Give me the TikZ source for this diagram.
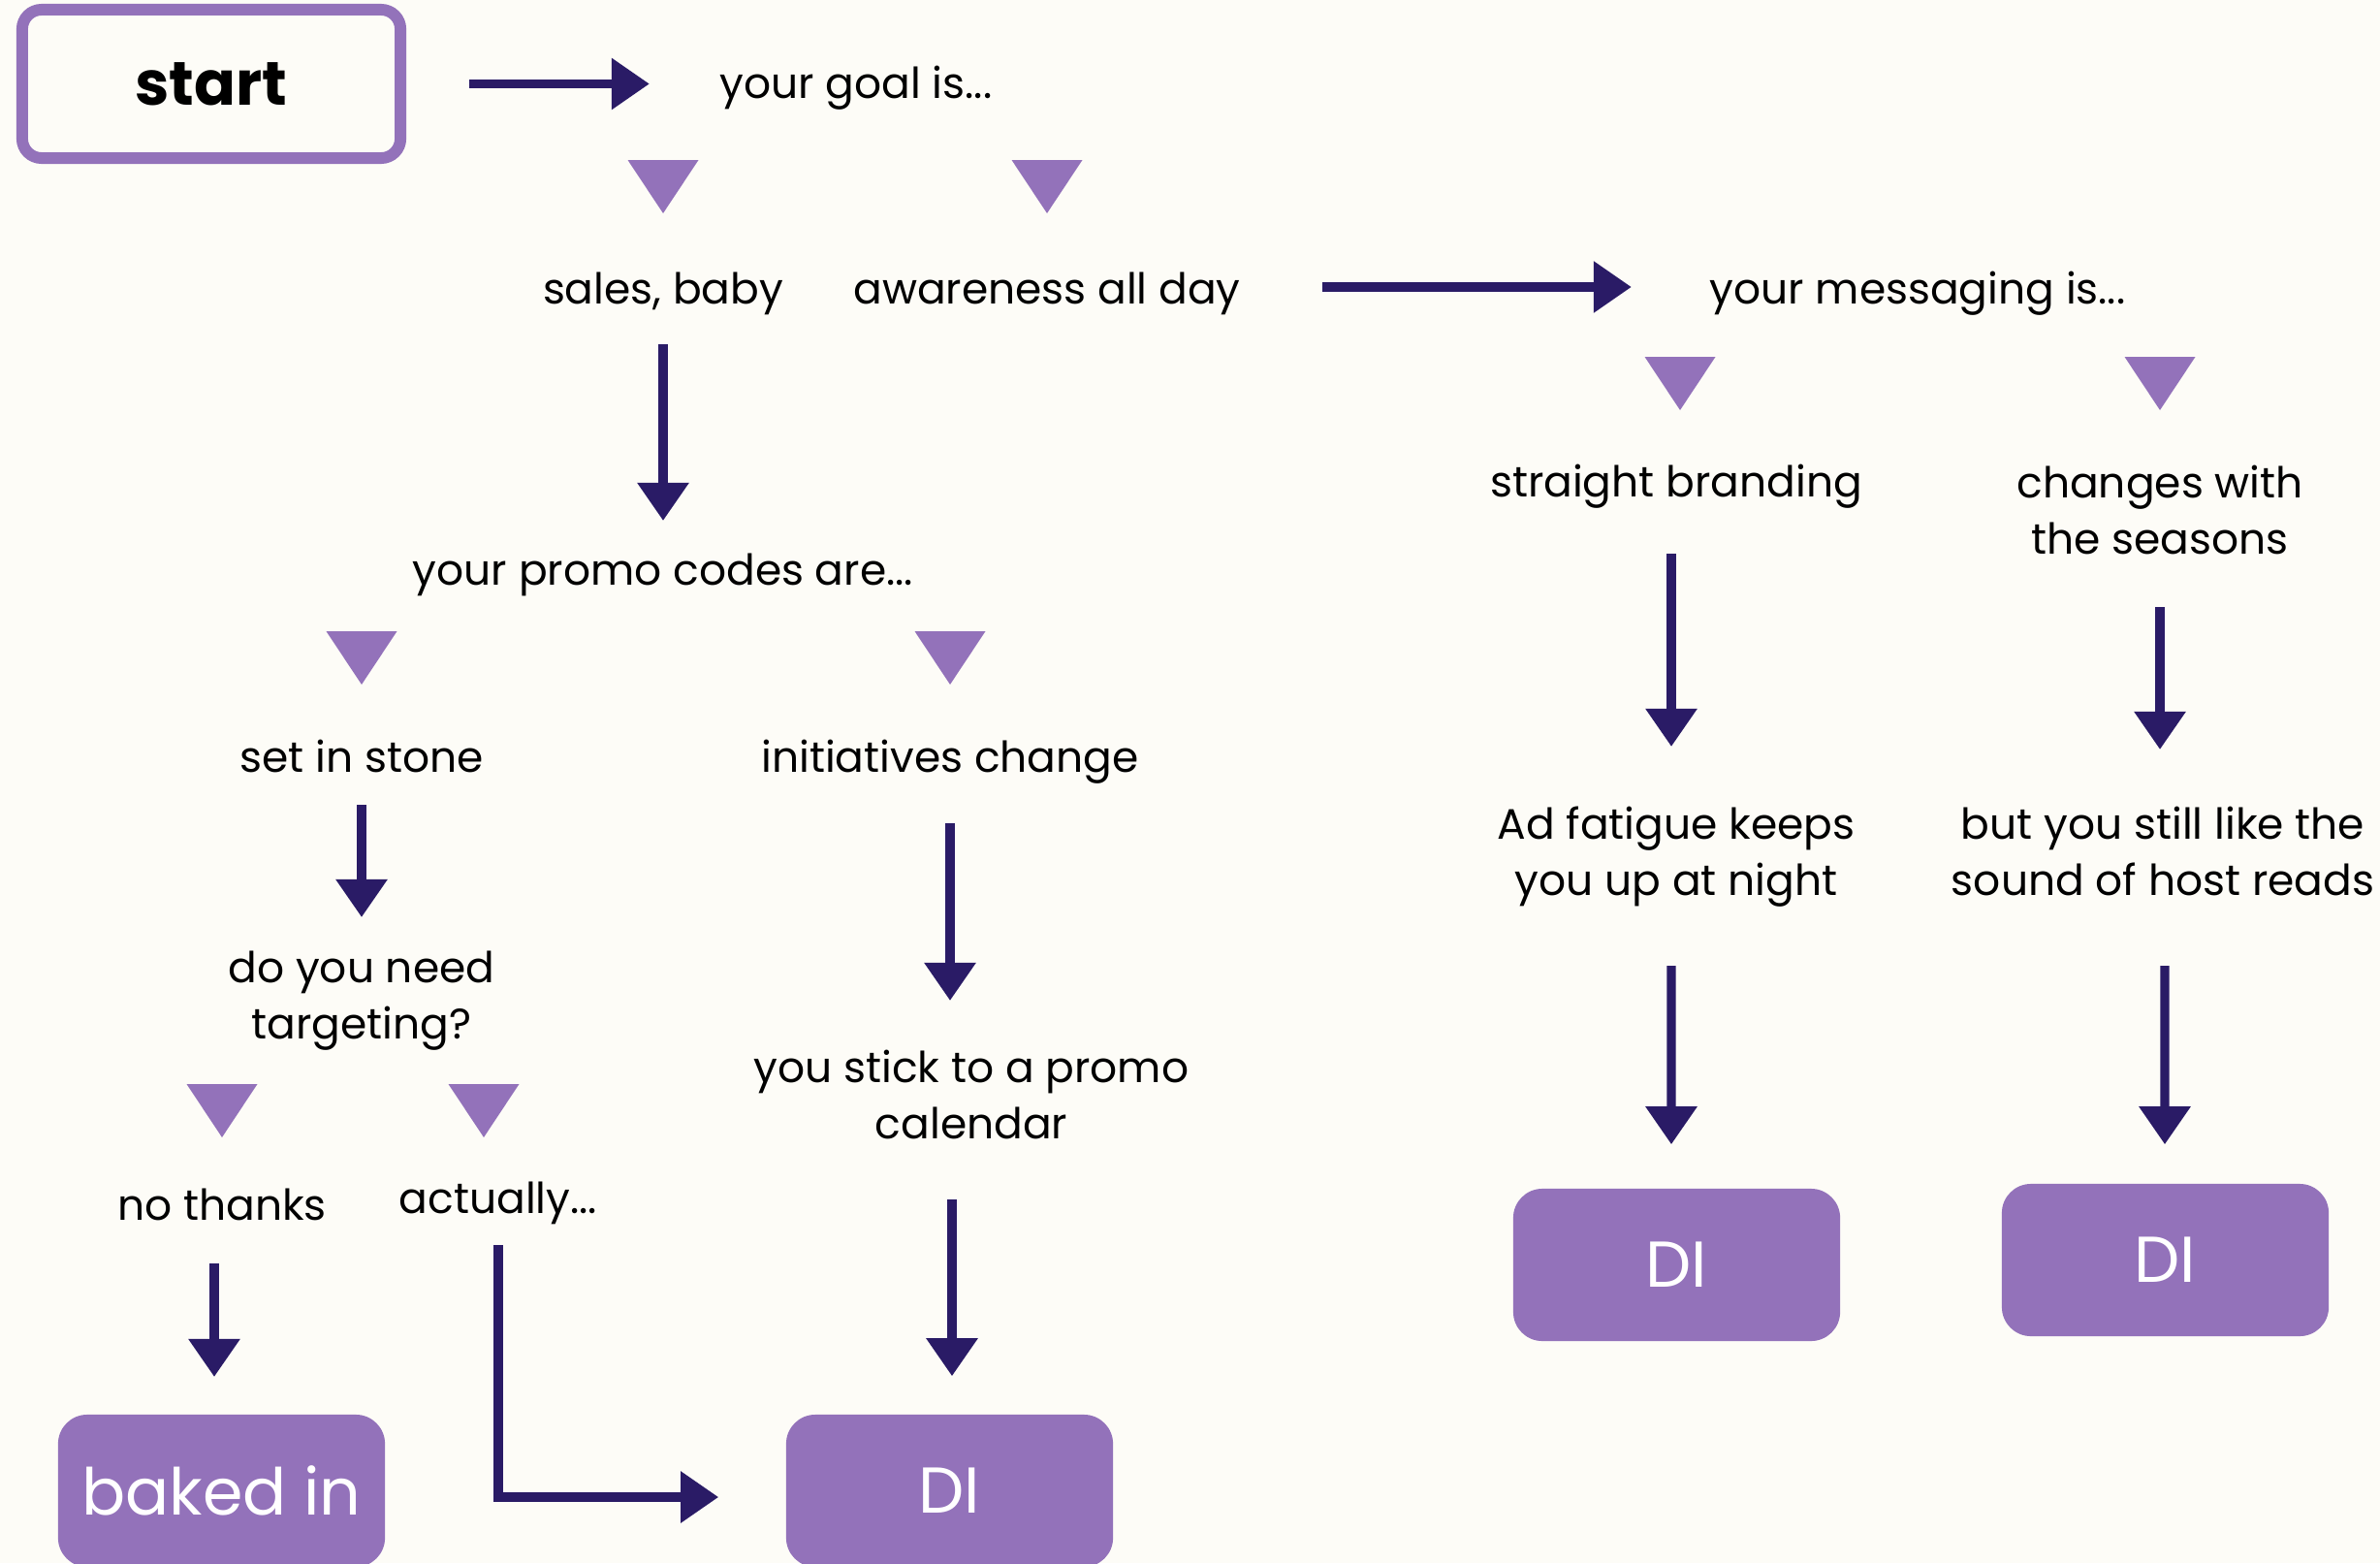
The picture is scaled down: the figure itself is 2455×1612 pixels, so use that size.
\documentclass[tikz,border=0pt]{standalone}
\usepackage{fontspec}
\setmainfont{Poppins}
\usetikzlibrary{arrows.meta}
\definecolor{lavender}{RGB}{147,114,186}
\definecolor{navy}{RGB}{42,27,102}
\definecolor{paper}{RGB}{253,252,247}
\tikzset{
  txt/.style={font=\fontsize{12.5}{16.5}\selectfont, align=center, text=black},
  startbox/.style={draw=lavender, line width=3.4pt, rounded corners=0.2cm, minimum width=3.9cm, minimum height=1.53cm, font=\fontsize{18}{22}\selectfont\bfseries},
  endbox/.style={fill=lavender, rounded corners=0.3cm, minimum width=3.37cm, minimum height=1.57cm, text=white, font=\fontsize{19}{23}\selectfont},
  arr/.style={draw=navy, line width=2.6pt, -{Triangle[length=0.39cm,width=0.51cm]}},
  tri/.style={fill=lavender}
}
\begin{document}
\begin{tikzpicture}[x=0.01cm, y=-0.01cm]
% canvas
\useasboundingbox (0,0) rectangle (2455,1612);
\fill[paper] (0,0) rectangle (2455,1612);
\clip (0,0) rectangle (2455,1612);

% nodes
\node[startbox] (start) at (218,86.5) {start};
\node[txt] (goal) at (883,91) {your goal is...};
\node[txt] (sales) at (684,303) {sales, baby};
\node[txt] (aware) at (1080,303) {awareness all day};
\node[txt] (msg) at (1978,303) {your messaging is...};
\node[txt] (promo) at (684,593) {your promo codes are...};
\node[txt] (stone) at (373,780) {set in stone};
\node[txt] (init) at (980,786) {initiatives change};
\node[txt] (need) at (373,1032) {do you need\\targeting?};
\node[txt] (cal) at (1002,1129) {you stick to a promo\\calendar};
\node[txt] (nothx) at (229,1242) {no thanks};
\node[txt] (actually) at (514,1241) {actually...};
\node[txt] (brand) at (1729,502) {straight branding};
\node[txt] (season) at (2228,526) {changes with\\the seasons};
\node[txt] (fatigue) at (1729,884) {Ad fatigue keeps\\you up at night};
\node[txt] (host) at (2231,878) {but you still like the\\sound of host reads};

% outcomes
\node[endbox] (baked) at (228.5,1537.5) {baked in};
\node[endbox] (di1) at (979.5,1537.5) {DI};
\node[endbox] (di2) at (1729.5,1304.5) {DI};
\node[endbox] (di3) at (2233.5,1299.5) {DI};

% choice markers
\foreach \x/\y in {684/165, 1080/165, 1733/368, 2228/368, 373/651, 980/651, 229/1118, 499/1118}
  \fill[tri] (\x-36.5,\y) -- (\x+36.5,\y) -- (\x,\y+55) -- cycle;

% arrows
\draw[arr, shorten <=2.66cm, shorten >=2.13cm] (start.center) -- (start.center -| goal.center);
\draw[arr, shorten <=2.84cm, shorten >=2.95cm] ([yshift=0.07cm]aware.center) -- ([yshift=0.07cm]msg.center);
\draw[arr, shorten <=0.52cm, shorten >=0.56cm] (sales.center) -- (promo.center);
\draw[arr, shorten <=0.5cm, shorten >=0.86cm] (stone.center) -- (need.center);
\draw[arr, shorten <=0.63cm, shorten >=0.97cm] (init.center) -- (init.center |- cal.center);
\draw[arr, shorten <=0.61cm, shorten >=1.175cm] ([xshift=-0.08cm]nothx.center) -- ([xshift=-0.08cm]nothx.center |- baked.center);
\draw[arr] ([yshift=-0.43cm]actually.center) |- ([xshift=-0.69cm, yshift=-0.065cm]di1.west);
\draw[arr, shorten <=1.08cm] ([xshift=0.025cm]di1.north |- cal.center) -- ([xshift=0.025cm, yshift=0.39cm]di1.north);
\draw[arr, shorten <=0.69cm, shorten >=1.14cm] ([xshift=-0.05cm]brand.center) -- ([xshift=-0.05cm]fatigue.center);
\draw[arr, shorten <=1cm, shorten >=1.05cm] (season.center) -- (season.center |- host.center);
\draw[arr, shorten <=1.12cm] ([xshift=-0.05cm]fatigue.center) -- ([xshift=-0.055cm, yshift=0.45cm]di2.north);
\draw[arr, shorten <=1.18cm] ([xshift=0.02cm]host.center) -- ([xshift=-0.005cm, yshift=0.4cm]di3.north);

\end{tikzpicture}
\end{document}
